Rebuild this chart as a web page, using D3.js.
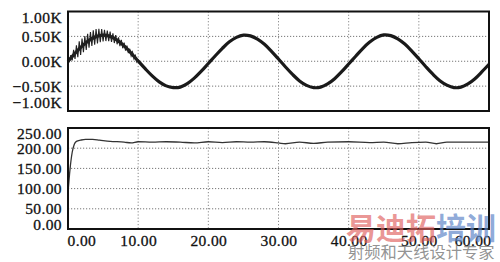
<!DOCTYPE html>
<html>
<head>
<meta charset="utf-8">
<script src="https://cdn.jsdelivr.net/npm/d3@7"></script>
<style>
  body { margin: 0; background: #fff; }
  svg { display: block; }
  .tick text { font-family: "Liberation Serif", serif; font-size: 15.5px; letter-spacing: 0.4px; fill: #111; stroke: #111; stroke-width: 0.3px; }
</style>
</head>
<body>
<svg width="500" height="262"></svg>
<script>
// top panel: voltage (smooth part, 1 s steps)
let vTime = d3.range(0, 61, 1);
let vBase = [0, 160, 305, 420, 495, 525, 500, 425, 310, 165, 5, -150, -295, -415, -495, -530, -520, -450, -340, -200,
  -45, 110, 260, 390, 480, 525, 510, 445, 340, 200, 45, -115, -265, -395, -485, -530, -520, -455, -350, -210,
  -55, 100, 255, 385, 480, 530, 515, 450, 345, 205, 50, -110, -260, -390, -480, -530, -520, -455, -350, -210, -60];

// top panel: start-up ripple, 0.2 s steps
let rTime = d3.range(0, 10.01, 0.2);
let rVal = [20, -7, 125, 17, 229, 46, 321, 82, 401, 129, 456, 181, 506, 229, 551, 271, 589, 306, 621, 334,
  645, 359, 651, 381, 649, 400, 634, 406, 616, 404, 595, 389, 561, 366, 524, 341, 481, 304, 431, 261,
  376, 214, 316, 162, 251, 106, 184, 47, 115, -12, 45];

// bottom panel: speed
let sTime = [0, 0.3, 0.6, 0.9, 1.2, 1.8, 2.5, 3.5, 4.5, 6, 8, 9, 10, 12, 14, 16, 18, 20, 22, 24, 26, 28, 30, 31,
  33, 35, 37, 40, 43, 45, 47, 49, 51, 52.5, 54, 57, 60];
let sVal = [90, 150, 190, 210, 217, 220, 222, 222, 220, 217, 215, 213, 216, 215, 216, 215, 213, 216, 214, 216,
  215, 216, 213, 211, 215, 212, 215, 216, 214, 215, 211, 214, 215, 211, 215, 215, 215];

let xTicks = [0, 10, 20, 30, 40, 50, 60];
let vTicks = [-1000, -500, 0, 500, 1000];
let sTicks = [0, 50, 100, 150, 200, 250];

let svg = d3.select("svg");
let left = 68, right = 489;

let x = d3.scaleLinear().domain([0, 60]).range([left, right]);
let yV = d3.scaleLinear().domain([-1000, 1000]).range([111, 11.5]);
let yS = d3.scaleLinear().domain([0, 250]).range([229, 128]);

function panel(y, ticks, fmt, shiftTop, shiftBot) {
  let g = svg.append("g");
  // grid
  g.append("g").selectAll("line").data(ticks.slice(1, -1)).join("line")
    .attr("x1", left).attr("x2", right)
    .attr("y1", d => y(d)).attr("y2", d => y(d))
    .attr("stroke", "#777").attr("stroke-width", 1).attr("stroke-dasharray", "1.2,1.8");
  g.append("g").selectAll("line").data(xTicks.slice(1, -1)).join("line")
    .attr("x1", d => x(d)).attr("x2", d => x(d))
    .attr("y1", y.range()[1]).attr("y2", y.range()[0])
    .attr("stroke", "#888").attr("stroke-width", 1).attr("stroke-dasharray", "1.2,2");
  // y axis labels
  let ax = g.append("g").attr("transform", "translate(" + left + ",0)")
    .call(d3.axisLeft(y).tickValues(ticks).tickFormat(fmt).tickSize(0).tickPadding(6));
  ax.select(".domain").remove();
  ax.selectAll(".tick text")
    .attr("dy", (d, i) => i == 0 ? shiftBot : i == ticks.length - 1 ? shiftTop : "0.32em");
  return g;
}

let gTop = panel(yV, vTicks, d => d3.format(".2f")(d / 1000) + "K", "0.72em", "-0.2em");
let gBot = panel(yS, sTicks, d3.format(".2f"), "0.66em", "0.06em");

// series
gTop.append("path").datum(vTime)
  .attr("fill", "none").attr("stroke", "#1a1a1a").attr("stroke-width", 3.2)
  .attr("d", d3.line().x(t => x(t)).y((t, i) => yV(vBase[i])).curve(d3.curveCatmullRom));
gTop.append("path").datum(rTime)
  .attr("fill", "none").attr("stroke", "#222").attr("stroke-width", 1.1)
  .attr("d", d3.line().x(t => x(t)).y((t, i) => yV(rVal[i])));

gBot.append("path").datum(sTime)
  .attr("fill", "none").attr("stroke", "#333").attr("stroke-width", 1.3)
  .attr("d", d3.line().x(t => x(t)).y((t, i) => yS(sVal[i])).curve(d3.curveMonotoneX));

// frames
[yV, yS].forEach(y => {
  svg.append("rect")
    .attr("x", left).attr("y", y.range()[1])
    .attr("width", right - left).attr("height", y.range()[0] - y.range()[1])
    .attr("fill", "none").attr("stroke", "#111").attr("stroke-width", 2);
});

// x axis labels
let xa = svg.append("g").attr("transform", "translate(0,235)")
  .call(d3.axisBottom(x).tickValues(xTicks).tickFormat(d3.format(".2f")).tickSize(0).tickPadding(0));
xa.select(".domain").remove();
xa.selectAll(".tick text")
  .attr("dy", "0.71em")
  .attr("text-anchor", (d, i) => i == 0 ? "start" : i == xTicks.length - 1 ? "end" : "middle")
  .attr("dx", (d, i) => i == 0 ? -1 : i == xTicks.length - 1 ? 2 : 0);

// watermark
let wm = svg.append("text").attr("x", 346).attr("y", 239)
  .style("font-family", "'Noto Sans CJK SC', sans-serif").style("font-size", "30px").style("font-weight", 700);
wm.append("tspan").text("易迪拓").attr("fill", "#e0625f").attr("fill-opacity", 0.68);
wm.append("tspan").text("培训").attr("fill", "#5f86c8").attr("fill-opacity", 0.7);
svg.append("text").attr("x", 348).attr("y", 258)
  .style("font-family", "'Noto Sans CJK SC', sans-serif").style("font-size", "16.3px")
  .attr("fill", "#777").attr("fill-opacity", 0.8)
  .text("射频和天线设计专家");
</script>
</body>
</html>
